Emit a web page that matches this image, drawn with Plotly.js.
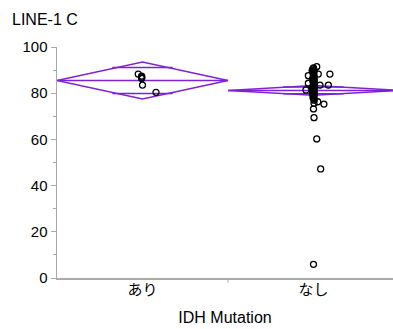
<!DOCTYPE html>
<html>
<head>
<meta charset="utf-8">
<script src="https://cdn.plot.ly/plotly-3.0.1.min.js"></script>
<style>html,body{margin:0;padding:0;background:#fff;}#chart{width:393px;height:329px;}</style>
</head>
<body>
<div id="chart"></div>
<script>
// Categories and their positions on the x axis (category centres)
const categories = ["あり", "なし"];
const catPos = [0.5, 1.5];

// Group summary read from the means diamonds
const groupMeans = [85.5, 81.2];
const groupCIHalf = [8.0, 2.1];

// Points: jitter offset (category units) and value
const ariValues = [88.3, 87.4, 86.9, 86.4, 83.5, 80.4];
const ariJitter = [-0.025, -0.005, -0.004, -0.005, 0.0, 0.079];

const nashiValues = [91.5, 91.0, 90.5, 90.1, 89.8, 89.4, 89.0, 88.6, 88.3, 88.3, 88.0, 87.6, 87.5, 87.2, 86.8, 86.5,
  86.0, 85.7, 85.5, 85.2, 85.0, 84.6, 84.3, 84.0, 83.7, 83.5, 83.5, 83.2, 83.0, 82.7, 82.5, 82.2, 82.0, 81.7,
  81.4, 81.2, 81.0, 80.7, 80.5, 80.2, 80.0, 79.7, 79.5, 79.1, 79.0, 78.5, 78.1, 77.8, 77.4, 77.0, 76.3, 75.6,
  75.3, 73.2, 69.4, 60.2, 47.2, 5.9];
const nashiJitter = [0.019, 0.0, -0.004, 0.003, -0.008, 0.004, 0.0, -0.003, 0.028, 0.096, 0.002, -0.030, 0.0, 0.004, -0.002, 0.003,
  -0.006, 0.002, 0.004, -0.003, 0.0, 0.003, -0.030, 0.0, 0.004, 0.038, 0.087, -0.003, 0.0, 0.003, -0.006, 0.002, 0.004, -0.002,
  -0.044, 0.003, 0.0, -0.004, 0.002, 0.004, -0.006, 0.0, 0.003, -0.002, 0.004, 0.0, -0.003, 0.002, 0.004, 0.003, 0.025, 0.003,
  0.061, 0.0, 0.003, 0.019, 0.042, 0.0];

const yTickVals = [0, 20, 40, 60, 80, 100];
const yTickText = ["0", "20", "40", "60", "80", "100"];

const purple = "#7d22d6";
const traces = [];

// Means diamonds, mean lines and overlap marks
for (let g = 0; g < categories.length; g++) {
  const c = catPos[g], m = groupMeans[g], h = groupCIHalf[g];
  traces.push({
    x: [c - 0.5, c, c + 0.5, c, c - 0.5],
    y: [m, m + h, m, m - h, m],
    mode: "lines", line: {color: purple, width: 1.5}, hoverinfo: "skip", showlegend: false
  });
  traces.push({
    x: [c - 0.5, c + 0.5], y: [m, m],
    mode: "lines", line: {color: purple, width: 1.5}, hoverinfo: "skip", showlegend: false
  });
  const k = 1 / Math.SQRT2;
  const hw = 0.5 * (1 - k) + 0.03;
  traces.push({
    x: [c - hw, c + hw, null, c - hw, c + hw],
    y: [m + h * k, m + h * k, null, m - h * k, m - h * k],
    mode: "lines", line: {color: purple, width: 1.5}, hoverinfo: "skip", showlegend: false
  });
}

// Points
const groups = [[ariValues, ariJitter], [nashiValues, nashiJitter]];
groups.forEach(function (gv, g) {
  traces.push({
    x: gv[1].map(function (j) { return catPos[g] + j; }),
    y: gv[0],
    mode: "markers",
    marker: {symbol: "circle-open", size: 6, color: "#000", line: {width: 1.3, color: "#000"}},
    showlegend: false, hoverinfo: "y"
  });
});

const font = "Liberation Sans, Arial, Noto Sans CJK JP, sans-serif";
const layout = {
  width: 393, height: 329,
  margin: {l: 57, r: 0, t: 47, b: 51},
  paper_bgcolor: "#fff", plot_bgcolor: "#fff",
  showlegend: false,
  font: {family: font, color: "#000", size: 15},
  title: {text: "LINE-1 C", x: 0, xref: "container", xanchor: "left", y: 1, yref: "container", yanchor: "top",
          pad: {t: 14, l: 12}, font: {family: font, size: 16, color: "#000"}},
  xaxis: {
    range: [0, 1.965], tickvals: catPos, ticktext: categories, ticks: "", showgrid: false, zeroline: false,
    showline: true, linecolor: "#aaa", linewidth: 1.5, fixedrange: true, ticklabelstandoff: -3,
    tickfont: {family: "Noto Sans CJK JP, sans-serif", size: 15, color: "#000"},
    title: {text: "IDH Mutation", font: {family: font, size: 16, color: "#000"}, standoff: 14}
  },
  yaxis: {
    range: [0, 100], tickvals: yTickVals, ticktext: yTickText, ticks: "outside", ticklen: 5, tickcolor: "#aaa",
    tickwidth: 1, showgrid: false, zeroline: false, showline: true, linecolor: "#aaa", linewidth: 1.5,
    tickfont: {family: font, size: 15, color: "#000"},
    minor: {dtick: 10, tick0: 10, ticks: "outside", ticklen: 3, tickcolor: "#aaa", showgrid: false}
  },
  shapes: [
    {type: "line", xref: "x", yref: "paper", x0: 1, x1: 1, y0: 0, y1: -0.02, line: {color: "#aaa", width: 1}}
  ]
};

Plotly.newPlot("chart", traces, layout, {displayModeBar: false, staticPlot: true});
</script>
</body>
</html>
